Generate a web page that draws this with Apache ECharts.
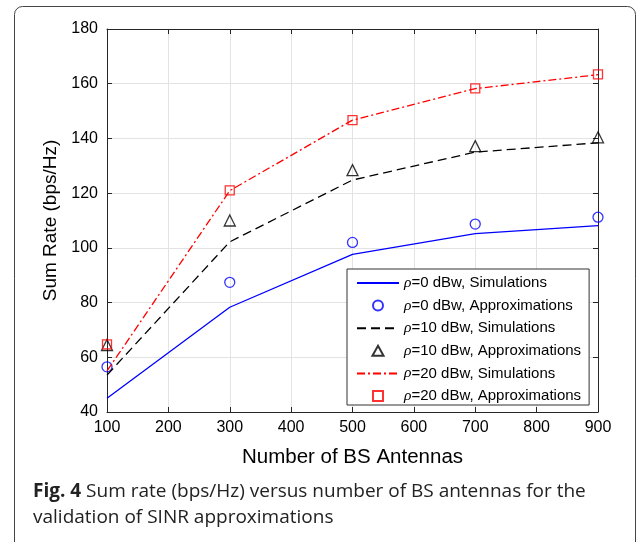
<!DOCTYPE html>
<html>
<head>
<meta charset="utf-8">
<script src="https://cdn.jsdelivr.net/npm/echarts@6/dist/echarts.min.js"></script>
<style>
  html, body { margin: 0; padding: 0; background: #fff; }
  #chart { width: 637px; height: 542px; }
</style>
</head>
<body>
<div id="chart"></div>
<script>
// number of BS antennas
const antennas = [100, 300, 500, 700, 900];
// sum rate (bps/Hz)
const sim0 = [45, 78.3, 97.6, 105.2, 108.1];
const approx0 = [56.5, 87.4, 102, 108.7, 111.2];
const sim10 = [53.5, 102.2, 124.8, 135, 138.4];
const approx10 = [64.5, 110, 128.4, 137.2, 140.4];
const sim20 = [55, 120.9, 146.7, 158.2, 163.3];
const approx20 = [64.7, 121, 146.7, 158.3, 163.4];

const seriesNames = [
  'ρ=0 dBw, Simulations',
  'ρ=0 dBw, Approximations',
  'ρ=10 dBw, Simulations',
  'ρ=10 dBw, Approximations',
  'ρ=20 dBw, Simulations',
  'ρ=20 dBw, Approximations'
];

const pairs = vals => antennas.map((x, i) => [x, vals[i]]);
const font = 'Liberation Sans, Arial, sans-serif';
const axisColor = '#262626';

// legend marker shapes (kept square so they are not stretched)
const circleIcon = 'path://M10,5A5,5,0,1,1,0,5A5,5,0,1,1,10,5Z';
const triangleIcon = 'path://M5,0L10,9L0,9Z';
const squareIcon = 'path://M0,0H10V10H0Z';

const chart = echarts.init(document.getElementById('chart'));

const tickAxis = {
  axisLine: { show: true, lineStyle: { color: axisColor, width: 1 } },
  axisTick: { show: true, inside: true, length: 5, lineStyle: { color: axisColor } },
};

const option = {
  animation: false,
  grid: { left: 107, top: 29, width: 491, height: 383 },
  xAxis: [
    {
      type: 'value', min: 100, max: 900, interval: 100,
      name: 'Number of BS Antennas', nameLocation: 'middle', nameGap: 35,
      nameTextStyle: { fontSize: 20.5, color: '#000', fontFamily: font },
      ...tickAxis,
      axisLabel: { fontSize: 16, color: '#000', fontFamily: font, margin: 8 },
      splitLine: { show: true, lineStyle: { color: '#e3e3e3', width: 1 } }
    },
    {
      type: 'value', min: 100, max: 900, interval: 100, position: 'top',
      ...tickAxis, axisLabel: { show: false }, splitLine: { show: false }
    }
  ],
  yAxis: [
    {
      type: 'value', min: 40, max: 180, interval: 20,
      name: 'Sum Rate (bps/Hz)', nameLocation: 'middle', nameGap: 42,
      nameTextStyle: { fontSize: 19, color: '#000', fontFamily: font },
      ...tickAxis,
      axisLabel: { fontSize: 16, color: '#000', fontFamily: font, margin: 9 },
      splitLine: { show: true, lineStyle: { color: '#e3e3e3', width: 1 } }
    },
    {
      type: 'value', min: 40, max: 180, interval: 20, position: 'right',
      ...tickAxis, axisLabel: { show: false }, splitLine: { show: false }
    }
  ],
  legend: {
    orient: 'vertical',
    left: 347, top: 269,
    data: [
      { name: seriesNames[0], itemStyle: { opacity: 0 } },
      { name: seriesNames[1], icon: circleIcon },
      { name: seriesNames[2], itemStyle: { opacity: 0 } },
      { name: seriesNames[3], icon: triangleIcon },
      { name: seriesNames[4], itemStyle: { opacity: 0 } },
      { name: seriesNames[5], icon: squareIcon }
    ],
    backgroundColor: '#fff',
    borderColor: '#333',
    borderWidth: 1,
    borderRadius: 0,
    padding: [6, 8, 1, 9],
    itemWidth: 42,
    itemHeight: 10,
    itemGap: 6.6,
    formatter: name => name.replace('ρ', '{i|ρ}'),
    textStyle: {
      fontSize: 15, lineHeight: 16, color: '#000', fontFamily: font,
      rich: { i: { fontSize: 15.5, lineHeight: 16, fontStyle: 'italic', fontFamily: 'Liberation Serif, serif', color: '#000' } }
    }
  },
  series: [
    {
      name: seriesNames[0], type: 'line', data: pairs(sim0), symbol: 'none',
      lineStyle: { color: '#0000ff', width: 1.3 }, itemStyle: { color: '#0000ff' }
    },
    {
      name: seriesNames[1], type: 'scatter', data: pairs(approx0), symbol: 'circle', symbolSize: 10,
      itemStyle: { color: 'rgba(255,255,255,0)', borderColor: '#0000ff', borderWidth: 1.3 }
    },
    {
      name: seriesNames[2], type: 'line', data: pairs(sim10), symbol: 'none',
      lineStyle: { color: '#000', width: 1.3, type: [9, 5] }, itemStyle: { color: '#000' }
    },
    {
      name: seriesNames[3], type: 'scatter', data: pairs(approx10), symbol: 'triangle', symbolSize: 11,
      itemStyle: { color: 'rgba(255,255,255,0)', borderColor: '#000', borderWidth: 1.3 }
    },
    {
      name: seriesNames[4], type: 'line', data: pairs(sim20), symbol: 'none',
      lineStyle: { color: '#ff0000', width: 1.3, type: [8, 3, 2, 3] }, itemStyle: { color: '#ff0000' }
    },
    {
      name: seriesNames[5], type: 'scatter', data: pairs(approx20), symbol: 'rect', symbolSize: 9,
      itemStyle: { color: 'rgba(255,255,255,0)', borderColor: '#ff0000', borderWidth: 1.3 }
    }
  ],
  graphic: [
    {
      type: 'rect', silent: true,
      shape: { x: 14.5, y: 6.5, width: 621, height: 600, r: 8 },
      style: { fill: 'none', stroke: '#444', lineWidth: 1 }
    },
    {
      type: 'text', left: 33, top: 479,
      style: {
        text: '{b|Fig. 4} Sum rate (bps/Hz) versus number of BS antennas for the\nvalidation of SINR approximations',
        fontSize: 19, lineHeight: 26, fontFamily: 'Open Sans, sans-serif', fill: '#222',
        rich: { b: { fontSize: 19, lineHeight: 26, fontWeight: 'bold', fontFamily: 'Open Sans, sans-serif', fill: '#222' } }
      }
    }
  ]
};

chart.setOption(option);
</script>
</body>
</html>
